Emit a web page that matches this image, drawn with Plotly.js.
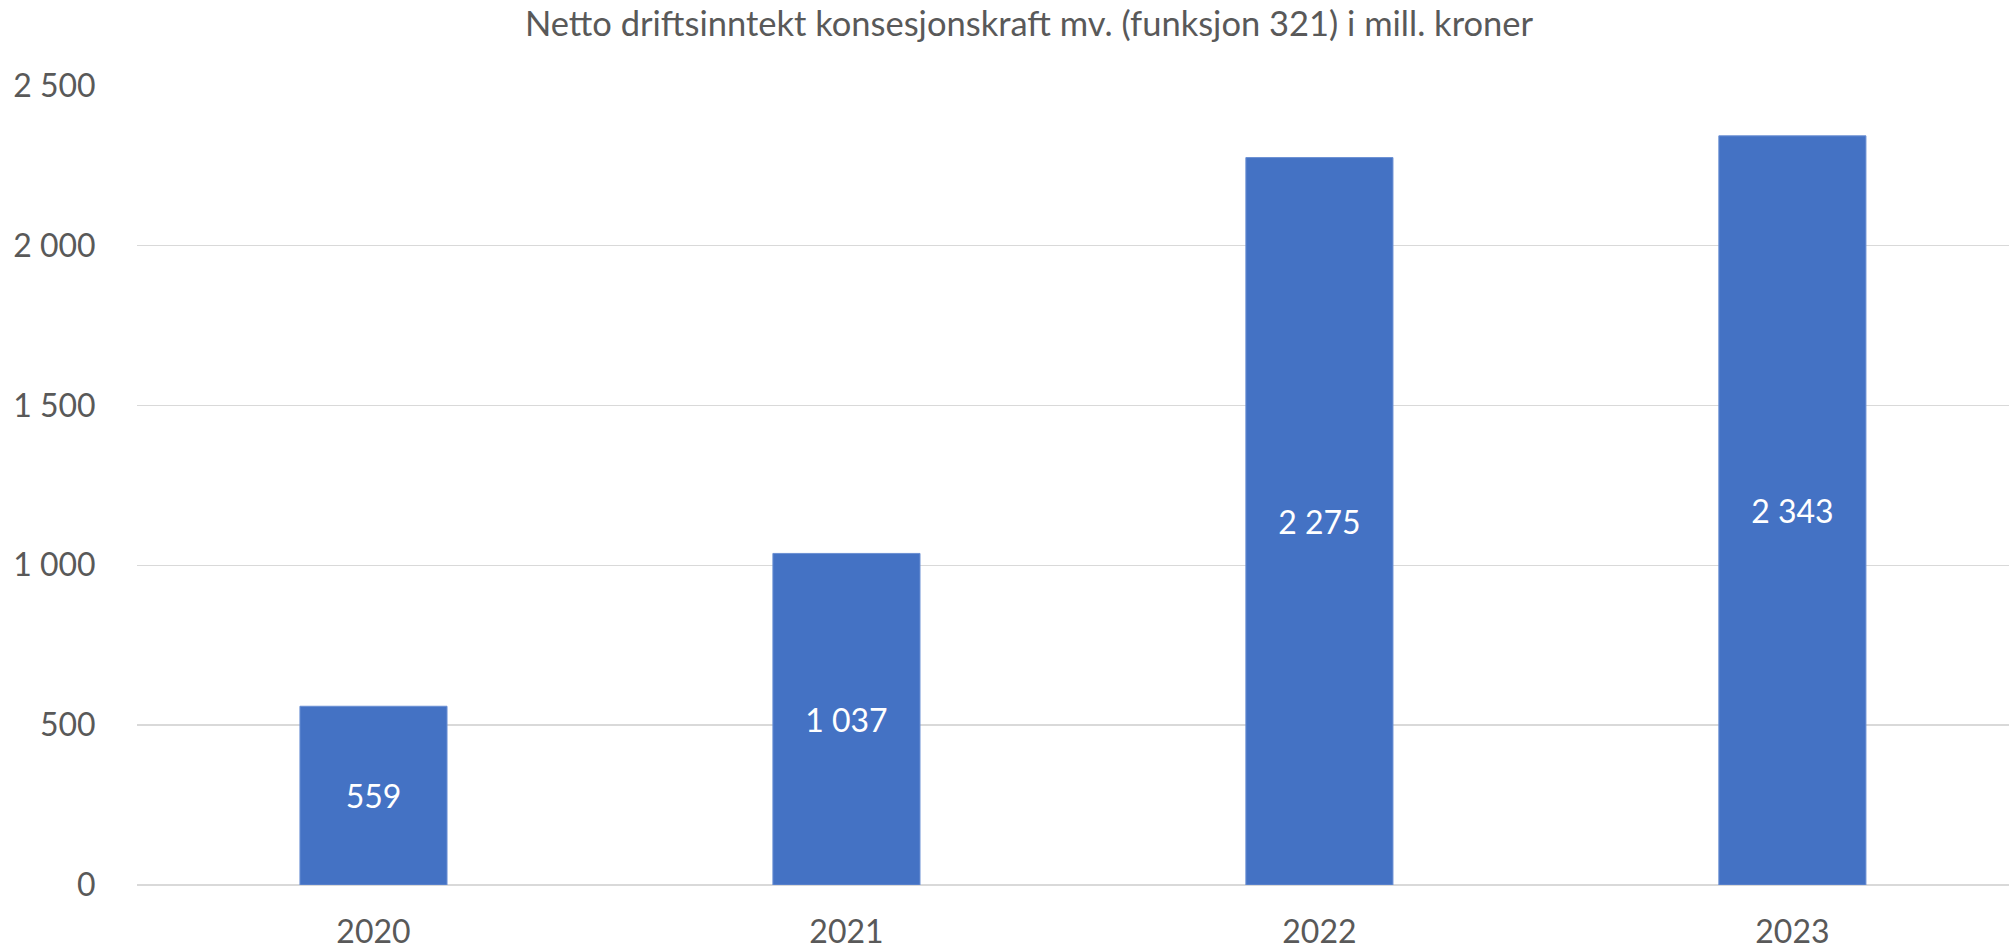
<!DOCTYPE html>
<html>
<head>
<meta charset="utf-8">
<script src="https://cdn.plot.ly/plotly-3.0.1.min.js"></script>
<style>
  html, body { margin: 0; padding: 0; background: #fff; }
  #chart { width: 2009px; height: 950px; }
</style>
</head>
<body>
<div id="chart"></div>
<script>
const categories = ["2020", "2021", "2022", "2023"];
const values = [559, 1037, 2275, 2343];
const yTickValues = [0, 500, 1000, 1500, 2000, 2500];
const titleText = "Netto driftsinntekt konsesjonskraft mv. (funksjon 321) i mill. kroner";

const FONT = "Lato, 'Open Sans', sans-serif";
const GREY = "#595959";

const trace = {
  type: "bar",
  x: categories,
  y: values,
  marker: { color: "#4472c4", line: { color: "#6a8fd3", width: 1 } },
  texttemplate: "%{y:,d}",
  textposition: "inside",
  insidetextanchor: "middle",
  textangle: 0,
  textfont: { family: FONT, size: 32, color: "#ffffff" },
  hoverinfo: "skip"
};

const layout = {
  width: 2009,
  height: 950,
  paper_bgcolor: "#ffffff",
  plot_bgcolor: "#ffffff",
  separators: ", ",
  showlegend: false,
  bargap: 0.689,
  margin: { l: 137, r: 0, t: 85, b: 65, pad: 0 },
  font: { family: FONT, size: 32, color: GREY },
  title: {
    text: titleText,
    font: { family: FONT, size: 34.5, color: GREY },
    xref: "container",
    yref: "container",
    x: 1029 / 2009,
    xanchor: "center",
    y: 1 - 24 / 950,
    yanchor: "middle"
  },
  xaxis: {
    type: "category",
    range: [-0.5, 3.458],
    showgrid: false,
    showline: false,
    zeroline: false,
    ticks: "outside",
    ticklen: 19,
    tickcolor: "rgba(0,0,0,0)",
    tickfont: { family: FONT, size: 32, color: GREY },
    fixedrange: true
  },
  yaxis: {
    range: [0, 2502],
    tickvals: yTickValues,
    tickformat: ",d",
    showgrid: true,
    gridcolor: "#d9d9d9",
    gridwidth: 1.5,
    zeroline: true,
    zerolinecolor: "#d9d9d9",
    zerolinewidth: 2,
    showline: false,
    ticks: "outside",
    ticklen: 34,
    tickcolor: "rgba(0,0,0,0)",
    tickfont: { family: FONT, size: 32, color: GREY },
    fixedrange: true
  }
};

Plotly.newPlot("chart", [trace], layout, { displayModeBar: false, staticPlot: true });
</script>
</body>
</html>
